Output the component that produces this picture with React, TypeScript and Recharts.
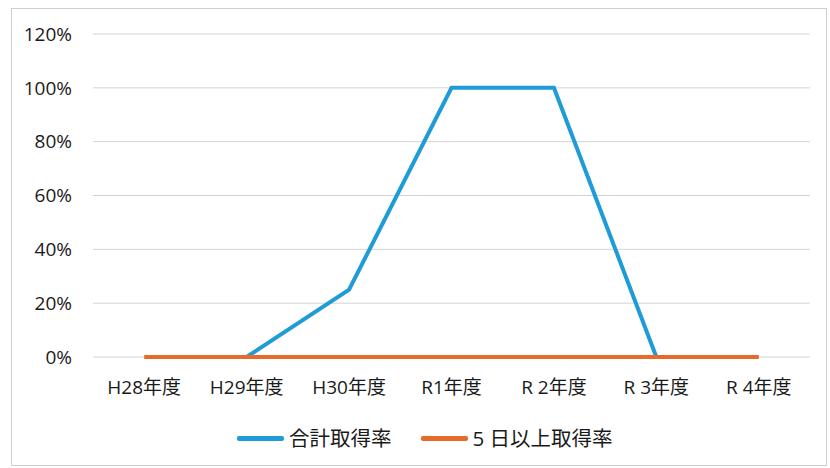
import React from "react";
import { LineChart, Line, XAxis, YAxis, CartesianGrid } from "recharts";

const categories = ["H28年度", "H29年度", "H30年度", "R1年度", "R 2年度", "R 3年度", "R 4年度"];
const totalRate: (number | null)[] = [null, 0, 25, 100, 100, 0, null];
const fiveDayRate: number[] = [0, 0, 0, 0, 0, 0, 0];
const yTicks = [0, 20, 40, 60, 80, 100, 120];
const seriesNames = ["合計取得率", "5 日以上取得率"];
const colors = ["#1F9BD7", "#E86A2A"];

const data = categories.map((c, i) => ({ name: c, total: totalRate[i], five: fiveDayRate[i] }));

const FONT = "'Open Sans', 'Noto Sans CJK JP', sans-serif";

export default function App() {
  return (
    <div style={{ position: "absolute", left: 0, top: 0, width: 830, height: 468, background: "#fff" }}>
      <div
        style={{
          position: "absolute",
          left: 11,
          top: 8,
          width: 816,
          height: 458,
          border: "1px solid #cfcfcf",
          boxSizing: "border-box",
        }}
      />
      <div style={{ position: "absolute", left: 0, top: 0 }}>
        <LineChart width={830} height={468} data={data} margin={{ top: 34, right: 20, bottom: 81, left: 13 }}>
          <CartesianGrid vertical={false} stroke="#d4d4d4" strokeWidth={1} />
          <XAxis
            dataKey="name"
            scale="band"
            height={30}
            axisLine={false}
            tickLine={false}
            tickSize={0}
            tickMargin={24}
            interval={0}
            tick={{ fill: "#1a1a1a", fontSize: 19, fontFamily: FONT }}
          />
          <YAxis
            width={80}
            domain={[0, 120]}
            ticks={yTicks}
            axisLine={false}
            tickLine={false}
            tickSize={0}
            tickMargin={21}
            tickFormatter={(v: number) => `${v}%`}
            tick={{ fill: "#1a1a1a", fontSize: 19, fontFamily: FONT }}
          />
          <Line
            type="linear"
            dataKey="total"
            name={seriesNames[0]}
            stroke={colors[0]}
            strokeWidth={4}
            dot={false}
            activeDot={false}
            isAnimationActive={false}
          />
          <Line
            type="linear"
            dataKey="five"
            name={seriesNames[1]}
            stroke={colors[1]}
            strokeWidth={4}
            dot={false}
            activeDot={false}
            isAnimationActive={false}
          />
        </LineChart>
      </div>
      <div
        style={{
          position: "absolute",
          top: 425,
          left: 237,
          display: "flex",
          fontFamily: FONT,
          fontSize: 20.5,
          lineHeight: "26px",
          color: "#1a1a1a",
          whiteSpace: "nowrap",
        }}
      >
        {seriesNames.map((n, i) => (
          <div key={n} style={{ display: "flex", alignItems: "center", marginRight: i === 0 ? 29 : 0 }}>
            <div style={{ width: 47, height: 5, background: colors[i], borderRadius: 2, marginRight: 5 }} />
            <span>{n}</span>
          </div>
        ))}
      </div>
    </div>
  );
}
